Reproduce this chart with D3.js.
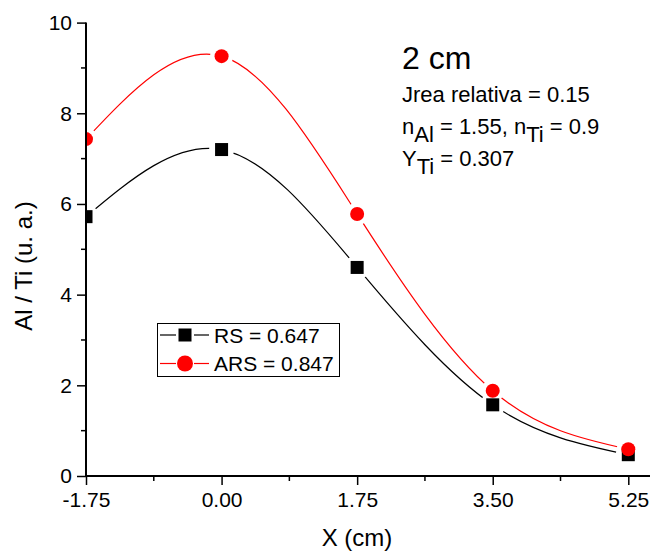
<!DOCTYPE html>
<html>
<head>
<meta charset="utf-8">
<script src="https://cdn.jsdelivr.net/npm/d3@7"></script>
<style>
  html, body { margin: 0; padding: 0; background: #fff; }
  svg { display: block; font-family: "Liberation Sans", Arial, sans-serif; }
</style>
</head>
<body>
<svg id="chart" width="650" height="552"></svg>
<script>
// ---- data ----
const xValues = [-1.75, 0, 1.75, 3.5, 5.25];
const rsValues = [5.72, 7.20, 4.60, 1.57, 0.47];
const arsValues = [7.43, 9.26, 5.78, 1.88, 0.59];
const seriesNames = ["RS = 0.647", "ARS = 0.847"];
const xTicks = [-1.75, 0, 1.75, 3.5, 5.25];
const xTickLabels = ["-1.75", "0.00", "1.75", "3.50", "5.25"];
const yTicks = [0, 2, 4, 6, 8, 10];
const xTitle = "X (cm)";
const yTitle = "Al / Ti (u. a.)";

const svg = d3.select("#chart");
const x = d3.scaleLinear().domain([-1.75, 5.25]).range([86, 628.3]);
const y = d3.scaleLinear().domain([0, 10]).range([476, 22.6]);
const xEnd = 650;
const defs = svg.append("defs");

// clip for plot area (markers at x=-1.75 are cut by the y axis)
defs.append("clipPath").attr("id", "plotclip").append("rect")
  .attr("x", x(-1.75)).attr("y", 0).attr("width", 650).attr("height", y(0));

// axes
const xAxis = d3.axisBottom(x).tickValues(xTicks).tickFormat((d, i) => xTickLabels[i]).tickSize(9).tickSizeOuter(0);
const gx = svg.append("g").attr("transform", `translate(0,${y(0)})`).call(xAxis);
gx.select(".domain").remove();
gx.append("line").attr("x1", x(-1.75)).attr("x2", xEnd).attr("y1", 0).attr("y2", 0).attr("stroke", "#000").attr("stroke-width", 2);
const xMinor = d3.range(-1.75 + 0.875, 5.6, 1.75);
gx.selectAll(".minor").data(xMinor).join("line").attr("class", "minor")
  .attr("x1", d => x(d)).attr("x2", d => x(d)).attr("y1", 0).attr("y2", 5).attr("stroke", "#000").attr("stroke-width", 1.5);
gx.selectAll(".tick line").attr("stroke-width", 1.5);
gx.selectAll(".tick text").attr("font-size", 21).attr("font-family", "Liberation Sans, Arial, sans-serif")
  .attr("fill", "#000").attr("y", 31).attr("dy", 0);

const yAxis = d3.axisLeft(y).tickValues(yTicks).tickFormat(d3.format("d")).tickSize(9).tickSizeOuter(0).tickPadding(5);
const gy = svg.append("g").attr("transform", `translate(${x(-1.75)},0)`).call(yAxis);
gy.select(".domain").remove();
gy.append("line").attr("x1", 0).attr("x2", 0).attr("y1", y(0)).attr("y2", y(10)).attr("stroke", "#000").attr("stroke-width", 2);
const yMinor = d3.range(1, 10, 2);
gy.selectAll(".minor").data(yMinor).join("line").attr("class", "minor")
  .attr("x1", -5).attr("x2", 0).attr("y1", d => y(d)).attr("y2", d => y(d)).attr("stroke", "#000").attr("stroke-width", 1.5);
gy.selectAll(".tick line").attr("stroke-width", 1.5);
gy.selectAll(".tick text").attr("font-size", 21).attr("font-family", "Liberation Sans, Arial, sans-serif").attr("fill", "#000");

// axis titles
svg.append("text").attr("x", 357).attr("y", 546).attr("text-anchor", "middle").attr("font-size", 24).text(xTitle);
svg.append("text").attr("transform", "translate(31.5,266) rotate(-90)").attr("text-anchor", "middle").attr("font-size", 24).text(yTitle);

// curves with gaps around own markers
const line = d3.line().x(d => x(d[0])).y(d => y(d[1])).curve(d3.curveNatural);
const series = [
  { name: seriesNames[0], vals: rsValues, color: "#000", shape: "square", gap: 12.5 },
  { name: seriesNames[1], vals: arsValues, color: "#ff0000", shape: "circle", gap: 11.5 }
];
const plot = svg.append("g").attr("clip-path", "url(#plotclip)");
series.forEach((s, si) => {
  const pts = xValues.map((xv, i) => [xv, s.vals[i]]);
  const m = defs.append("mask").attr("id", "mask" + si).attr("maskUnits", "userSpaceOnUse")
    .attr("x", 0).attr("y", 0).attr("width", 650).attr("height", 552);
  m.append("rect").attr("x", 0).attr("y", 0).attr("width", 650).attr("height", 552).attr("fill", "#fff");
  pts.forEach(p => m.append("circle").attr("cx", x(p[0])).attr("cy", y(p[1])).attr("r", s.gap).attr("fill", "#000"));
  plot.append("path").attr("d", line(pts)).attr("fill", "none").attr("stroke", s.color)
    .attr("stroke-width", 1.2).attr("mask", `url(#mask${si})`);
});
function drawMarker(g, shape, color, cx, cy, size) {
  if (shape === "square") {
    g.append("rect").attr("x", cx - size / 2).attr("y", cy - size / 2).attr("width", size).attr("height", size).attr("fill", color);
  } else {
    g.append("circle").attr("cx", cx).attr("cy", cy).attr("r", size / 2).attr("fill", color);
  }
}
series.forEach(s => {
  xValues.forEach((xv, i) => drawMarker(plot, s.shape, s.color, x(xv), y(s.vals[i]), s.shape === "square" ? 13 : 14));
});
gy.raise();

// legend
const lg = svg.append("g");
lg.append("rect").attr("x", 157.5).attr("y", 323.5).attr("width", 182).attr("height", 53).attr("fill", "#fff").attr("stroke", "#000").attr("stroke-width", 1);
series.forEach((s, i) => {
  const ly = 335 + i * 28.5;
  lg.append("line").attr("x1", 160).attr("x2", 176).attr("y1", ly).attr("y2", ly).attr("stroke", s.color).attr("stroke-width", 1.2);
  lg.append("line").attr("x1", 194).attr("x2", 209).attr("y1", ly).attr("y2", ly).attr("stroke", s.color).attr("stroke-width", 1.2);
  drawMarker(lg, s.shape, s.color, 185, ly, s.shape === "square" ? 13 : 16);
  lg.append("text").attr("x", 214).attr("y", ly + 7.5).attr("font-size", 21).text(s.name);
});

// annotation
const ann = svg.append("g");
ann.append("text").attr("x", 402).attr("y", 69).attr("font-size", 32).text("2 cm");
ann.append("text").attr("x", 402).attr("y", 102).attr("font-size", 22).text("Jrea relativa = 0.15");
const t3 = ann.append("text").attr("x", 402).attr("y", 134).attr("font-size", 22);
t3.append("tspan").text("n");
t3.append("tspan").attr("dy", 8).text("Al");
t3.append("tspan").attr("dy", -8).text(" = 1.55, n");
t3.append("tspan").attr("dy", 8).text("Ti");
t3.append("tspan").attr("dy", -8).text(" = 0.9");
const t4 = ann.append("text").attr("x", 402).attr("y", 166).attr("font-size", 22);
t4.append("tspan").text("Y");
t4.append("tspan").attr("dy", 8).text("Ti");
t4.append("tspan").attr("dy", -8).text(" = 0.307");
</script>
</body>
</html>
